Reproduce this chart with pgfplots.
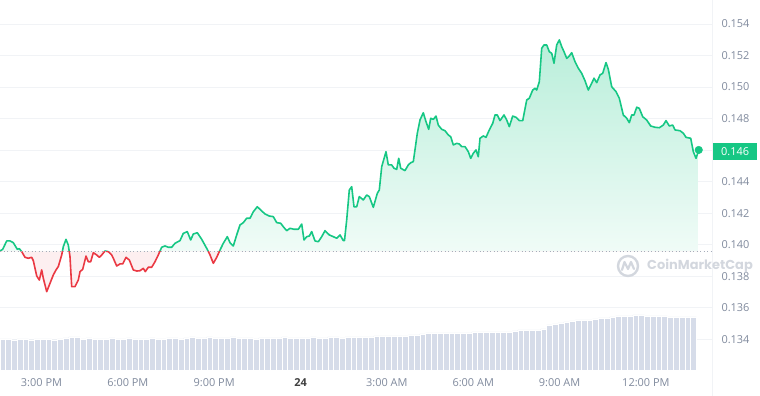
\documentclass[border=0pt]{standalone}
\usepackage{pgfplots}
\pgfplotsset{compat=1.18}
\usepackage{pgfplotstable}
\usepackage{fontspec}
\setmainfont{Open Sans}
\newfontfamily\wmfont{Poppins}
\definecolor{cmcgreen}{HTML}{16C784}
\definecolor{cmcred}{HTML}{EA3943}
\definecolor{labc}{RGB}{128,138,157}
\definecolor{gridc}{HTML}{F1F3F6}
\definecolor{dotc}{HTML}{A6ADBA}
\definecolor{volc}{HTML}{D6DCE9}
\definecolor{wmc}{HTML}{D3D7DE}

\pgfplotstableread{
h v
1.558 0.13960
1.652 0.13971
1.791 0.14024
1.905 0.14024
2.020 0.14013
2.159 0.13971
2.229 0.13975
2.312 0.13956
2.427 0.13920
2.541 0.13914
2.659 0.13920
2.715 0.13899
2.833 0.13802
2.924 0.13776
3.007 0.13840
3.063 0.13787
3.181 0.13702
3.295 0.13755
3.410 0.13808
3.504 0.13840
3.584 0.13861
3.702 0.13935
3.757 0.13987
3.851 0.14034
3.931 0.13998
3.990 0.13924
4.049 0.13734
4.164 0.13734
4.279 0.13776
4.338 0.13829
4.432 0.13844
4.546 0.13928
4.626 0.13892
4.709 0.13892
4.800 0.13949
4.918 0.13935
5.008 0.13920
5.092 0.13935
5.206 0.13960
5.321 0.13956
5.439 0.13935
5.495 0.13914
5.613 0.13865
5.728 0.13878
5.821 0.13878
5.936 0.13920
6.051 0.13903
6.190 0.13840
6.308 0.13833
6.422 0.13835
6.537 0.13850
6.607 0.13829
6.711 0.13857
6.829 0.13857
6.944 0.13892
7.058 0.13935
7.176 0.13984
7.291 0.13992
7.406 0.13984
7.524 0.13984
7.639 0.14009
7.812 0.14026
7.927 0.14072
8.066 0.14083
8.184 0.14030
8.274 0.14068
8.414 0.14076
8.566 0.14034
8.740 0.13977
8.855 0.13935
8.969 0.13882
9.088 0.13920
9.202 0.13966
9.317 0.14009
9.456 0.14051
9.550 0.14013
9.665 0.13992
9.782 0.14062
9.897 0.14125
10.012 0.14140
10.130 0.14168
10.245 0.14168
10.359 0.14209
10.498 0.14241
10.616 0.14220
10.766 0.14195
10.915 0.14182
11.054 0.14178
11.172 0.14140
11.311 0.14136
11.402 0.14114
11.520 0.14089
11.634 0.14104
11.773 0.14098
11.923 0.14098
12.041 0.14131
12.121 0.14030
12.215 0.14051
12.305 0.14055
12.388 0.14083
12.503 0.14024
12.618 0.14019
12.736 0.14051
12.851 0.14089
13.000 0.14062
13.139 0.14051
13.257 0.14041
13.372 0.14062
13.486 0.14026
13.528 0.14026
13.604 0.14157
13.695 0.14347
13.778 0.14368
13.858 0.14241
13.952 0.14241
14.042 0.14305
14.181 0.14284
14.299 0.14315
14.390 0.14305
14.529 0.14237
14.668 0.14326
14.737 0.14347
14.821 0.14495
14.970 0.14590
15.050 0.14506
15.168 0.14506
15.248 0.14485
15.342 0.14478
15.411 0.14548
15.481 0.14485
15.630 0.14470
15.745 0.14506
15.828 0.14520
15.919 0.14527
16.058 0.14707
16.151 0.14791
16.266 0.14837
16.360 0.14780
16.454 0.14732
16.523 0.14802
16.614 0.14795
16.707 0.14816
16.787 0.14759
16.905 0.14732
17.020 0.14723
17.135 0.14696
17.218 0.14685
17.309 0.14633
17.427 0.14643
17.517 0.14639
17.600 0.14622
17.715 0.14622
17.830 0.14590
17.913 0.14548
18.003 0.14580
18.097 0.14601
18.177 0.14558
18.236 0.14675
18.351 0.14690
18.445 0.14681
18.559 0.14728
18.678 0.14770
18.757 0.14823
18.837 0.14823
18.931 0.14787
19.070 0.14823
19.164 0.14791
19.254 0.14749
19.372 0.14816
19.487 0.14808
19.602 0.14787
19.720 0.14787
19.859 0.14918
19.949 0.14929
20.067 0.14981
20.147 0.14992
20.206 0.14981
20.297 0.15034
20.380 0.15246
20.460 0.15267
20.554 0.15267
20.644 0.15224
20.728 0.15214
20.807 0.15151
20.901 0.15267
20.992 0.15299
21.075 0.15256
21.155 0.15224
21.249 0.15182
21.339 0.15197
21.422 0.15218
21.537 0.15161
21.652 0.15119
21.770 0.15087
21.884 0.15040
21.999 0.14981
22.117 0.15024
22.197 0.15056
22.291 0.15028
22.406 0.15077
22.499 0.15087
22.614 0.15155
22.694 0.15113
22.812 0.15002
22.962 0.14971
23.076 0.14929
23.215 0.14823
23.333 0.14802
23.424 0.14774
23.507 0.14823
23.587 0.14823
23.681 0.14872
23.771 0.14865
23.889 0.14812
24.028 0.14791
24.167 0.14753
24.317 0.14745
24.466 0.14742
24.605 0.14759
24.699 0.14787
24.814 0.14753
24.932 0.14759
25.012 0.14728
25.185 0.14723
25.300 0.14707
25.394 0.14681
25.557 0.14675
25.648 0.14590
25.742 0.14548
25.836 0.14601
}\pricedata

\pgfplotsset{overlay/.style={at={(0,0)}, anchor=south west, width=712bp, scale only axis,
  xmin=1.558, xmax=26.297, hide axis}}

\begin{document}
\begin{tikzpicture}
% main axis: grid and tick labels
\begin{axis}[
  at={(0,0)}, anchor=south west,
  width=712bp, height=370bp, scale only axis,
  xmin=1.558, xmax=26.297, ymin=0.132053, ymax=0.155522,
  axis line style={draw=none}, tick style={draw=none},
  major tick length=0pt,
  ymajorgrids, grid style={color=gridc, line width=0.7bp},
  ytick={0.134,0.136,0.138,0.140,0.142,0.144,0.146,0.148,0.150,0.152,0.154},
  yticklabels={0.134,0.136,0.138,0.140,0.142,0.144,{},0.148,0.150,0.152,0.154},
  yticklabel pos=right,
  yticklabel style={anchor=west, xshift=6bp, font=\fontsize{11}{13}\selectfont, text=labc},
  xtick={3,6,9,12,15,18,21,24},
  xticklabels={3:00 PM,6:00 PM,9:00 PM,{\color{black!75}\bfseries 24},3:00 AM,6:00 AM,9:00 AM,12:00 PM},
  xticklabel style={font=\fontsize{11}{13}\selectfont, text=labc, yshift=-5bp},
  /pgf/number format/assume math mode=true,
]
\addplot[draw=none] coordinates {(1.558,0.14) (26.297,0.14)};
\end{axis}
% part above the opening price (green), clipped by its own axis
\begin{axis}[overlay, at={(0,118.51bp)}, height=251.49bp, ymin=0.13957, ymax=0.155522]
\addplot[draw=none, top color=cmcgreen!30, bottom color=cmcgreen!2] table {\pricedata}
  -- (axis cs:25.836,0.13957) -- (axis cs:1.558,0.13957) -- cycle;
\addplot[cmcgreen, line width=1.6bp, line join=round] table {\pricedata};
\end{axis}
% part below the opening price (red)
\begin{axis}[overlay, height=118.51bp, ymin=0.132053, ymax=0.13957]
\addplot[draw=none, fill=cmcred!8] table {\pricedata}
  -- (axis cs:25.836,0.13957) -- (axis cs:1.558,0.13957) -- cycle;
\addplot[cmcred, line width=1.6bp, line join=round] table {\pricedata};
\end{axis}
% volume
\begin{axis}[overlay, height=370bp, ymin=0, ymax=37]
\addplot[ybar, bar width=0.2, fill=volc, draw=white, line width=0.5bp] coordinates {
(1.65,3.1)(1.85,3.1)(2.05,3.0)(2.25,3.1)(2.45,3.1)(2.65,3.0)(2.85,3.1)(3.05,3.1)(3.25,3.1)(3.45,3.0)(3.65,3.1)(3.85,3.2)
(4.05,3.3)(4.25,3.3)
(4.45,3.1)(4.65,3.2)(4.85,3.1)(5.05,3.1)(5.25,3.1)(5.45,3.2)(5.65,3.1)(5.85,3.1)(6.05,3.2)(6.25,3.1)(6.45,3.1)(6.65,3.1)(6.85,3.2)(7.05,3.1)(7.25,3.1)(7.45,3.2)(7.65,3.2)(7.85,3.1)
(8.05,3.2)(8.25,3.3)(8.45,3.2)(8.65,3.2)(8.85,3.3)(9.05,3.2)(9.25,3.2)(9.45,3.2)(9.65,3.3)(9.85,3.2)
(10.05,3.2)(10.25,3.2)(10.45,3.1)(10.65,3.2)(10.85,3.2)(11.05,3.2)(11.25,3.2)(11.45,3.3)(11.65,3.2)(11.85,3.2)(12.05,3.2)(12.25,3.2)(12.45,3.3)(12.65,3.2)(12.85,3.2)(13.05,3.3)(13.25,3.3)(13.45,3.2)(13.65,3.3)(13.85,3.3)(14.05,3.3)(14.25,3.3)(14.45,3.3)(14.65,3.4)
(14.85,3.4)(15.05,3.4)(15.25,3.4)(15.45,3.4)(15.65,3.4)(15.85,3.5)(16.05,3.5)
(16.25,3.6)(16.45,3.7)(16.65,3.7)(16.85,3.7)(17.05,3.7)(17.25,3.7)(17.45,3.7)(17.65,3.7)(17.85,3.7)(18.05,3.8)(18.25,3.8)(18.45,3.8)(18.65,3.8)(18.85,3.8)(19.05,3.8)(19.25,3.8)(19.45,3.9)
(19.65,4.0)(19.85,4.0)(20.05,4.0)(20.25,4.0)(20.45,4.1)
(20.65,4.5)(20.85,4.6)(21.05,4.7)(21.25,4.8)
(21.45,4.9)(21.65,5.0)(21.85,5.0)(22.05,5.0)(22.25,5.1)(22.45,5.2)(22.65,5.2)
(22.85,5.3)(23.05,5.4)(23.25,5.4)(23.45,5.4)(23.65,5.5)(23.85,5.5)(24.05,5.4)(24.25,5.4)
(24.45,5.4)(24.65,5.4)(24.85,5.3)(25.05,5.3)(25.25,5.3)(25.45,5.3)(25.65,5.3)
};
\end{axis}
% opening-price line and last price marker
\begin{axis}[overlay, height=370bp, ymin=0.132053, ymax=0.155522, clip=false]
\addplot[color=dotc, line width=0.8bp, dash pattern=on 1.2bp off 2.3bp] coordinates {(1.558,0.13957) (26.297,0.13957)};
\addplot[only marks, mark=*, mark size=3.8bp, color=cmcgreen] coordinates {(25.836,0.14601)};
\end{axis}
% right separator
\draw[color=gridc, line width=0.8bp] (712bp,-26bp) -- (712bp,370bp);
% current price tag
\node[fill=cmcgreen, text=white, inner sep=0pt, minimum width=44bp, minimum height=17bp,
      anchor=west, font=\fontsize{11}{13}\selectfont] at (713bp,218.5bp) {0.146};
% watermark
\draw[color=wmc, line width=2.4bp] (628bp,104bp) circle (10bp);
\draw[color=wmc, line width=2.2bp, line join=round, line cap=round]
  (622bp,100bp) -- (624.5bp,108bp) -- (628bp,101bp) -- (631bp,108bp) -- (634bp,101bp);
\node[anchor=west, inner sep=0pt, text=wmc, font=\wmfont\bfseries\fontsize{13}{15}\selectfont] at (647bp,104bp) {CoinMarketCap};
\pgfresetboundingbox
\path (0,-26bp) rectangle (760bp,370bp);
\end{tikzpicture}
\end{document}
